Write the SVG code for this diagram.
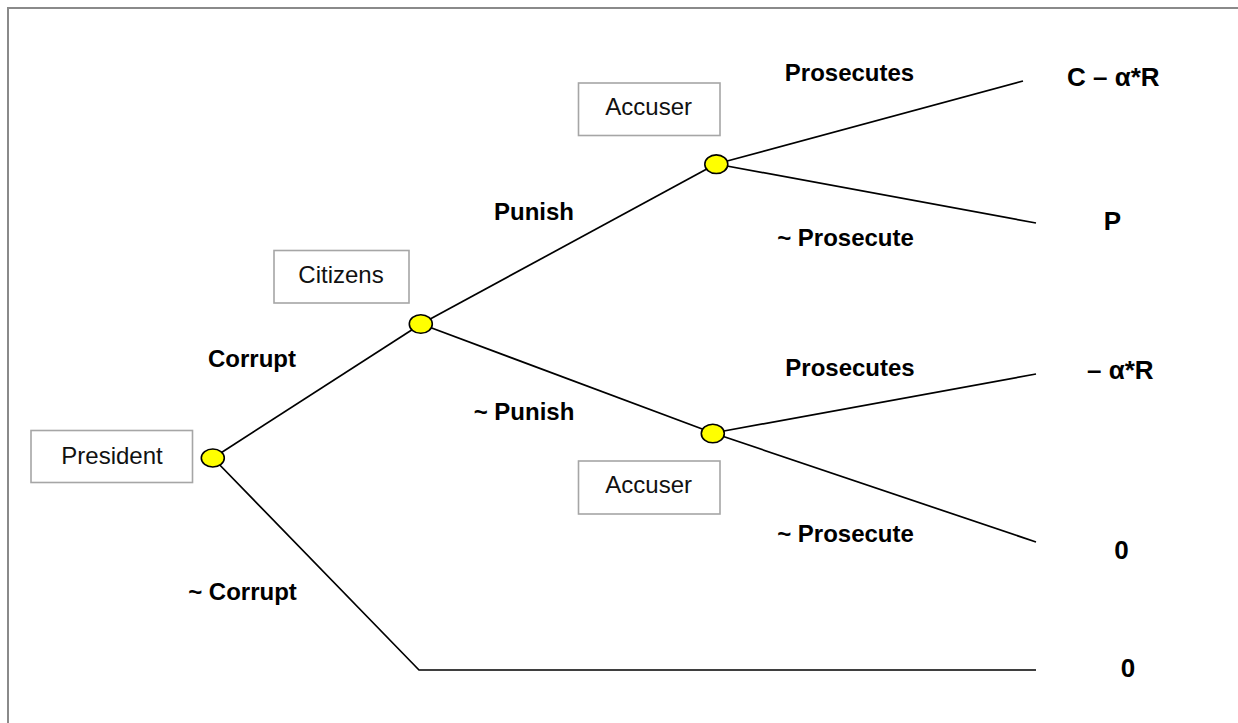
<svg xmlns="http://www.w3.org/2000/svg" width="1238" height="723" viewBox="0 0 1238 723">
<style>
.lbl{font-family:"Liberation Sans",Arial,sans-serif;font-size:24px;font-weight:bold;fill:#000}
.pay{font-family:"Liberation Sans",Arial,sans-serif;font-size:26px;font-weight:bold;fill:#000}
.box{fill:#fff;stroke:#a6a6a6;stroke-width:1.6}
.btxt{font-family:"Liberation Sans",Arial,sans-serif;font-size:24px;fill:#111;text-anchor:middle}
.dot{fill:#ffff00;stroke:#000;stroke-width:1.6}
.edge{stroke:#000;stroke-width:1.7;fill:none}
</style>
<rect x="0" y="0" width="1238" height="723" fill="#fff"/>
<rect x="8" y="8" width="1240" height="730" fill="none" stroke="#8a8a8a" stroke-width="2"/>
<g id="connectors">
<line class="edge" x1="213" y1="458" x2="421" y2="324"/>
<polyline class="edge" points="213,458 419,670 1036,670"/>
<line class="edge" x1="421" y1="324" x2="716" y2="164"/>
<line class="edge" x1="421" y1="324" x2="713" y2="433"/>
<line class="edge" x1="716" y1="164" x2="1023" y2="81"/>
<line class="edge" x1="716" y1="164" x2="1036" y2="223"/>
<line class="edge" x1="713" y1="433" x2="1036" y2="374"/>
<line class="edge" x1="713" y1="433" x2="1036" y2="542"/>
</g>
<g id="labels">
<text class="lbl" x="849.5" y="81" text-anchor="middle">Prosecutes</text>
<text class="lbl" x="845.5" y="246" text-anchor="middle">~ Prosecute</text>
<text class="lbl" x="534" y="220" text-anchor="middle">Punish</text>
<text class="lbl" x="524" y="420" text-anchor="middle">~ Punish</text>
<text class="lbl" x="252" y="367" text-anchor="middle">Corrupt</text>
<text class="lbl" x="242.5" y="600" text-anchor="middle">~ Corrupt</text>
<text class="lbl" x="850" y="376" text-anchor="middle">Prosecutes</text>
<text class="lbl" x="845.5" y="542" text-anchor="middle">~ Prosecute</text>
</g>
<g id="payoffs">
<text class="pay" x="1067" y="86">C – α*R</text>
<text class="pay" x="1112.5" y="230" text-anchor="middle">P</text>
<text class="pay" x="1087" y="379">– α*R</text>
<text class="pay" x="1121.5" y="559" text-anchor="middle">0</text>
<text class="pay" x="1128" y="677" text-anchor="middle">0</text>
</g>
<g id="president">
<rect class="box" x="31" y="430.5" width="161.5" height="52"/>
<text class="btxt" x="112" y="463.5">President</text>
<ellipse class="dot" cx="212.8" cy="458" rx="11.5" ry="9"/>
</g>
<g id="citizens">
<rect class="box" x="274" y="250.5" width="135" height="52.5"/>
<text class="btxt" x="341" y="283">Citizens</text>
<ellipse class="dot" cx="420.8" cy="324" rx="11.5" ry="9.3"/>
</g>
<g id="accuser-top">
<rect class="box" x="578.5" y="83" width="141.5" height="52.5"/>
<text class="btxt" x="648.7" y="115">Accuser</text>
<ellipse class="dot" cx="716.3" cy="164.2" rx="11.5" ry="9.3"/>
</g>
<g id="accuser-bottom">
<rect class="box" x="578.5" y="461" width="141.5" height="53"/>
<text class="btxt" x="648.7" y="493.3">Accuser</text>
<ellipse class="dot" cx="712.8" cy="433.5" rx="11.5" ry="9.3"/>
</g>
</svg>
